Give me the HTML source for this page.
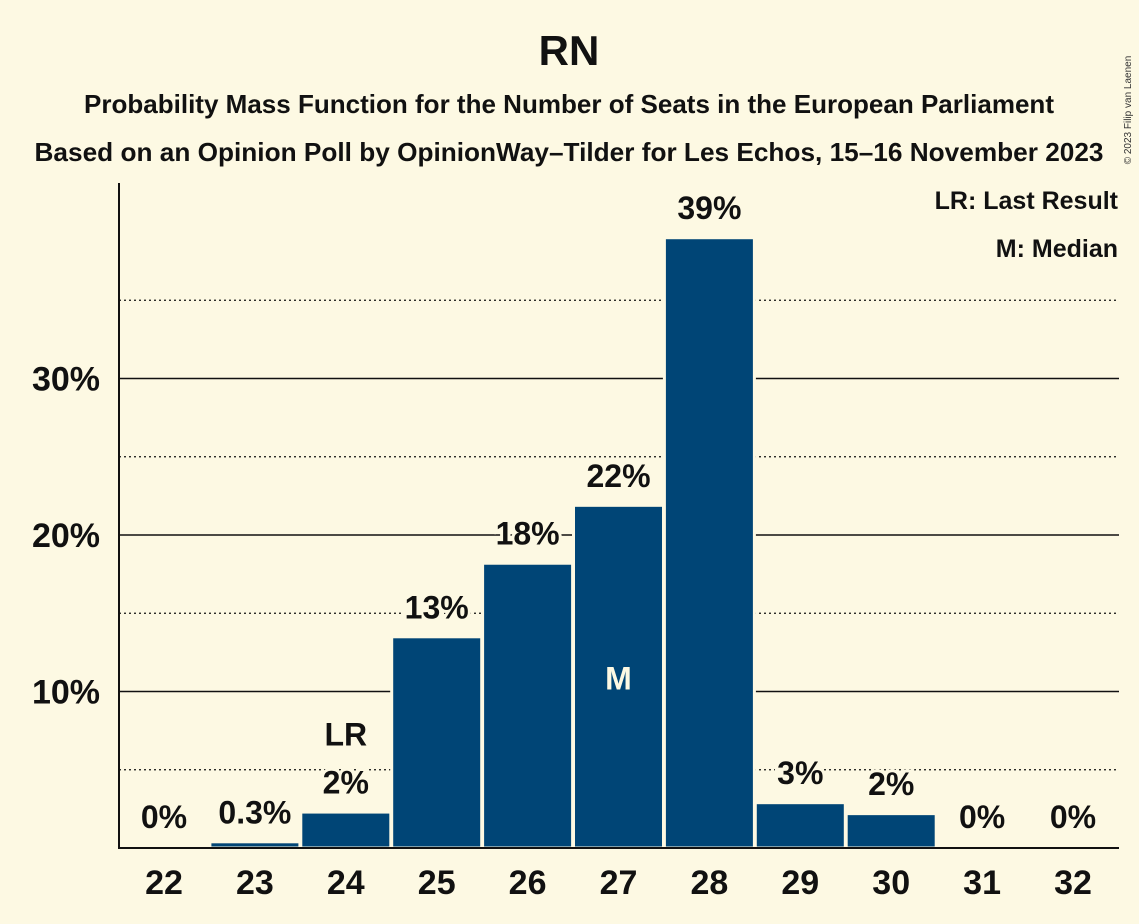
<!DOCTYPE html>
<html><head><meta charset="utf-8"><style>
body{margin:0;background:#fdf9e3;}
svg{display:block;font-family:"Liberation Sans",sans-serif;font-weight:bold;}
</style></head><body>
<svg id="chart" width="1139" height="924">
<rect width="1139" height="924" fill="#fdf9e3"/>
<text x="569" y="65" text-anchor="middle" font-size="42" fill="#111">RN</text>
<text x="569" y="113" text-anchor="middle" font-size="26" textLength="970" lengthAdjust="spacingAndGlyphs" fill="#111">Probability Mass Function for the Number of Seats in the European Parliament</text>
<text x="569" y="161" text-anchor="middle" font-size="26" textLength="1069" lengthAdjust="spacingAndGlyphs" fill="#111">Based on an Opinion Poll by OpinionWay–Tilder for Les Echos, 15–16 November 2023</text>
<text x="1131" y="110" font-size="10" font-weight="normal" fill="#333" transform="rotate(-90 1131 110)" text-anchor="middle">© 2023 Filip van Laenen</text>
<g id="grid"></g>
<g id="bars"></g>
<g id="labels"></g>
<line x1="119" y1="183" x2="119" y2="849" stroke="#111" stroke-width="2"/>
<line x1="118" y1="848" x2="1119" y2="848" stroke="#111" stroke-width="2"/>
<text x="1118" y="209" text-anchor="end" font-size="25" fill="#111">LR: Last Result</text>
<text x="1118" y="257" text-anchor="end" font-size="25" fill="#111">M: Median</text>
</svg>
<script>
const categories=[22,23,24,25,26,27,28,29,30,31,32];
const values=[0,0.3,2.2,13.4,18.1,21.8,38.9,2.8,2.1,0,0];
const valueLabels=["0%","0.3%","2%","13%","18%","22%","39%","3%","2%","0%","0%"];
const solidTicks=[10,20,30];
const dottedTicks=[5,15,25,35];
const lastResult=24, median=27;
const NS="http://www.w3.org/2000/svg";
const x=c=>164+(c-22)*90.9;
const y=v=>848-v*15.65;
function mk(t,a,p){const e=document.createElementNS(NS,t);for(const k in a)e.setAttribute(k,a[k]);p.appendChild(e);return e;}
const grid=document.getElementById('grid'),bars=document.getElementById('bars'),labels=document.getElementById('labels');
dottedTicks.forEach(v=>{const l=mk('line',{x1:119,x2:1119,y1:y(v),y2:y(v),stroke:'#111','stroke-width':1.3,'stroke-dasharray':'2,3'},grid);

});
solidTicks.forEach(v=>{const l=mk('line',{x1:119,x2:1119,y1:y(v),y2:y(v),stroke:'#111','stroke-width':1.5},grid);


const t=mk('text',{x:100,y:y(v)+12,'text-anchor':'end','font-size':34,fill:'#111'},grid);t.textContent=v+'%';

});
categories.forEach((c,i)=>{
 if(values[i]>0){const r=mk('rect',{x:x(c)-45,y:y(values[i])-1.5,width:90,height:848-y(values[i])+1.5,fill:'#004576',stroke:'#fdf9e3','stroke-width':3},bars);
 
 }
 const t=mk('text',{x:x(c),y:y(values[i])-20,'text-anchor':'middle','font-size':32,fill:'#111',stroke:'#fdf9e3','stroke-width':6,'paint-order':'stroke'},labels);t.textContent=valueLabels[i];
 
 
 const xt=mk('text',{x:x(c),y:894,'text-anchor':'middle','font-size':34,fill:'#111'},labels);xt.textContent=c;
 
 
 if(c===lastResult){const l=mk('text',{x:x(c),y:y(values[i])-68,'text-anchor':'middle','font-size':32,fill:'#111',stroke:'#fdf9e3','stroke-width':6,'paint-order':'stroke'},labels);l.textContent='LR';
 
 }
 if(c===median){const m=mk('text',{x:x(c),y:y(values[i]/2)+12,'text-anchor':'middle','font-size':32,fill:'#fdf9e3'},labels);m.textContent='M';
 
 }
});
</script>
</body></html>
